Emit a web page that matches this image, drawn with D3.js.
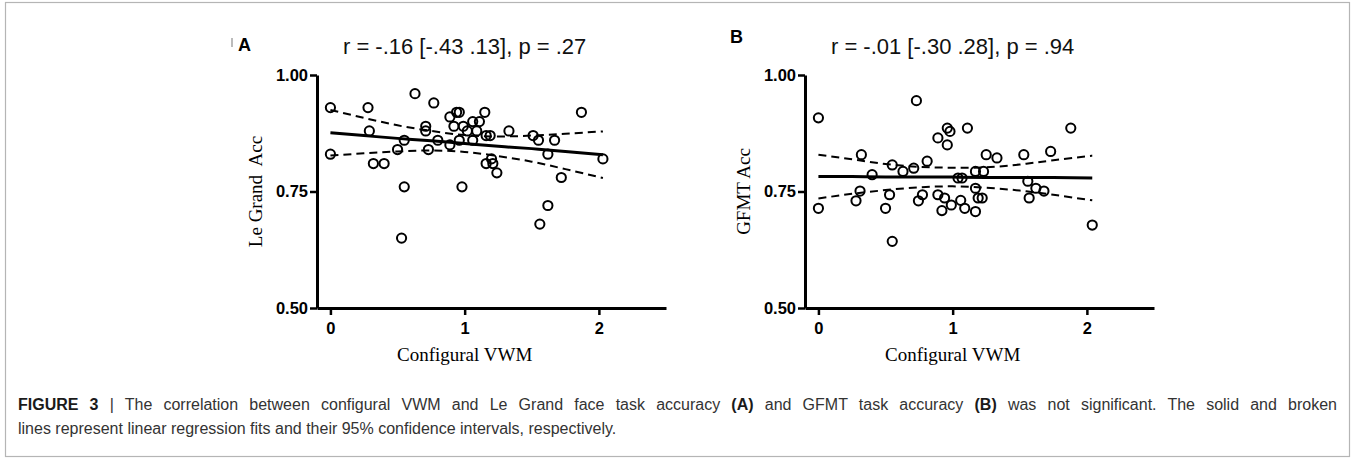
<!DOCTYPE html>
<html>
<head>
<meta charset="utf-8">
<script src="https://cdn.jsdelivr.net/npm/d3@7/dist/d3.min.js"></script>
<style>
  html, body { margin: 0; padding: 0; background: #fff; }
  svg { display: block; }
</style>
</head>
<body>
<svg id="chart" width="1355" height="461"></svg>
<script>
// ---------- DATA ----------
const xTicks = [0, 1, 2];
const xTickLabels = ["0", "1", "2"];
const yTicks = [0.50, 0.75, 1.00];
const yTickLabels = ["0.50", "0.75", "1.00"];

// Panel A: Configural VWM vs Le Grand Acc
const panelA_x = [0, 0, 0.28, 0.29, 0.32, 0.40, 0.50, 0.55, 0.55, 0.53, 0.63, 0.71, 0.71, 0.73, 0.77, 0.80,
  0.89, 0.89, 0.94, 0.96, 0.92, 0.99, 1.06, 1.11, 0.96, 1.02, 1.09, 1.06, 0.98, 1.15, 1.16, 1.19,
  1.16, 1.20, 1.21, 1.24, 1.33, 1.51, 1.55, 1.67, 1.62, 1.87, 2.03, 1.72, 1.62, 1.56];
const panelA_y = [0.93, 0.83, 0.93, 0.88, 0.81, 0.81, 0.84, 0.86, 0.76, 0.65, 0.96, 0.89, 0.88, 0.84, 0.94, 0.86,
  0.85, 0.91, 0.92, 0.92, 0.89, 0.89, 0.90, 0.90, 0.86, 0.88, 0.88, 0.86, 0.76, 0.92, 0.87, 0.87,
  0.81, 0.82, 0.81, 0.79, 0.88, 0.87, 0.86, 0.86, 0.83, 0.92, 0.82, 0.78, 0.72, 0.68];
const bandA_x = [0, 0.25, 0.5, 0.75, 1.0, 1.25, 1.5, 1.75, 2.03];
const fitA = [0.876, 0.870, 0.864, 0.859, 0.853, 0.847, 0.842, 0.836, 0.829];
const upperA = [0.925, 0.908, 0.892, 0.880, 0.871, 0.868, 0.870, 0.874, 0.879];
const lowerA = [0.827, 0.832, 0.836, 0.838, 0.835, 0.826, 0.814, 0.798, 0.779];

// Panel B: Configural VWM vs GFMT Acc
const panelB_x = [0, 0, 0.32, 0.31, 0.28, 0.40, 0.50, 0.53, 0.55, 0.55, 0.63, 0.71, 0.73, 0.745, 0.775, 0.81,
  0.89, 0.96, 0.98, 0.96, 1.11, 0.89, 0.94, 0.92, 0.99, 1.06, 1.09, 1.17, 1.04, 1.07, 1.17, 1.23,
  1.17, 1.19, 1.22, 1.25, 1.33, 1.53, 1.73, 1.88, 1.56, 1.57, 1.62, 1.68, 2.04];
const panelB_y = [0.908, 0.714, 0.829, 0.751, 0.730, 0.786, 0.714, 0.743, 0.807, 0.643, 0.793, 0.800, 0.945, 0.730, 0.743, 0.815,
  0.865, 0.886, 0.879, 0.850, 0.886, 0.743, 0.736, 0.709, 0.721, 0.731, 0.714, 0.707, 0.779, 0.779, 0.793, 0.793,
  0.757, 0.736, 0.736, 0.829, 0.822, 0.829, 0.836, 0.886, 0.772, 0.736, 0.757, 0.751, 0.678];
const bandB_x = [0, 0.25, 0.5, 0.75, 1.0, 1.25, 1.5, 1.75, 2.04];
const fitB = [0.782, 0.782, 0.781, 0.781, 0.781, 0.780, 0.780, 0.780, 0.779];
const upperB = [0.829, 0.819, 0.809, 0.803, 0.801, 0.802, 0.808, 0.817, 0.827];
const lowerB = [0.735, 0.745, 0.753, 0.759, 0.761, 0.758, 0.752, 0.743, 0.731];

const panels = [
  { letter: "A", title: "r = -.16 [-.43 .13], p = .27", ylabel: "Le Grand  Acc", xlabel: "Configural VWM",
    px: panelA_x, py: panelA_y, bx: bandA_x, fit: fitA, up: upperA, lo: lowerA,
    left: 317, letterX: 238, letterY: 51, markX: 232 },
  { letter: "B", title: "r = -.01 [-.30 .28], p = .94", ylabel: "GFMT Acc", xlabel: "Configural VWM",
    px: panelB_x, py: panelB_y, bx: bandB_x, fit: fitB, up: upperB, lo: lowerB,
    left: 805, letterX: 730, letterY: 43, markX: null }
];

const captionLine1 = [
  { t: "FIGURE 3", b: true }, { t: " | The correlation between configural VWM and Le Grand face task accuracy ", b: false },
  { t: "(A)", b: true }, { t: " and GFMT task accuracy ", b: false }, { t: "(B)", b: true },
  { t: " was not significant. The solid and broken", b: false }
];
const captionLine2 = "lines represent linear regression fits and their 95% confidence intervals, respectively.";

// ---------- DRAW ----------
const svg = d3.select("#chart");

// outer frame
svg.append("rect").attr("x", 5.5).attr("y", 2.5).attr("width", 1344).attr("height", 454)
  .attr("fill", "none").attr("stroke", "#b5b5b5").attr("stroke-width", 1.2);

const plotTop = 75, plotBottom = 308, plotW = 349;
const sans = "'Liberation Sans', Arial, sans-serif";
const serif = "'Liberation Serif', 'Times New Roman', serif";

panels.forEach(p => {
  const x = d3.scaleLinear().domain([-0.1, 2.5]).range([p.left, p.left + plotW]);
  const y = d3.scaleLinear().domain([0.5, 1.0]).range([plotBottom, plotTop]);
  const g = svg.append("g");

  // axes
  const yAxis = d3.axisLeft(y).tickValues(yTicks)
    .tickFormat((d, i) => yTickLabels[i]).tickSize(7).tickSizeOuter(0).tickPadding(2);
  const gy = g.append("g").attr("transform", `translate(${p.left},0)`).call(yAxis);
  const xAxis = d3.axisBottom(x).tickValues(xTicks)
    .tickFormat((d, i) => xTickLabels[i]).tickSize(7).tickSizeOuter(0).tickPadding(7);
  const gx = g.append("g").attr("transform", `translate(0,${plotBottom})`).call(xAxis);
  [gy, gx].forEach(a => {
    a.select(".domain").attr("stroke", "#000").attr("stroke-width", 3);
    a.selectAll(".tick line").attr("stroke", "#000").attr("stroke-width", 2.5);
    a.selectAll(".tick text").attr("fill", "#000")
      .style("font-family", sans).style("font-weight", "bold").style("font-size", "16.5px");
  });

  // confidence band (dashed) and fit (solid)
  const line = d3.line().x((d, i) => x(p.bx[i])).y(d => y(d)).curve(d3.curveNatural);
  g.append("path").attr("d", line(p.up)).attr("fill", "none").attr("stroke", "#000")
    .attr("stroke-width", 2).attr("stroke-dasharray", "8,5");
  g.append("path").attr("d", line(p.lo)).attr("fill", "none").attr("stroke", "#000")
    .attr("stroke-width", 2).attr("stroke-dasharray", "8,5");
  g.append("path").attr("d", line(p.fit)).attr("fill", "none").attr("stroke", "#000")
    .attr("stroke-width", 3);

  // points
  g.selectAll("circle.pt").data(p.px).enter().append("circle").attr("class", "pt")
    .attr("cx", d => x(d)).attr("cy", (d, i) => y(p.py[i])).attr("r", 4.6)
    .attr("fill", "none").attr("stroke", "#000").attr("stroke-width", 2);

  // labels
  if (p.markX !== null) {
    g.append("line").attr("x1", p.markX).attr("x2", p.markX).attr("y1", 38).attr("y2", 47)
      .attr("stroke", "#bbb").attr("stroke-width", 2);
  }
  g.append("text").attr("x", p.letterX).attr("y", p.letterY).text(p.letter)
    .style("font-family", sans).style("font-weight", "bold")
    .style("font-size", "18px").attr("fill", "#000");
  g.append("text").attr("x", x(1)).attr("y", 54).attr("text-anchor", "middle").text(p.title)
    .style("font-family", sans).style("font-size", "22px").attr("fill", "#111");
  g.append("text").attr("transform", `translate(${p.left - 55},${(plotTop + plotBottom) / 2}) rotate(-90)`)
    .attr("text-anchor", "middle").text(p.ylabel)
    .style("font-family", serif).style("font-size", "19px")
    .style("white-space", "pre").attr("fill", "#000");
  g.append("text").attr("x", x(1)).attr("y", 361).attr("text-anchor", "middle").text(p.xlabel)
    .style("font-family", serif).style("font-size", "19px").attr("fill", "#000");
});

// caption (first line justified to the full text width)
const capLeft = 18, capRight = 1337;
const cap1 = svg.append("text").attr("x", capLeft).attr("y", 410)
  .style("font-family", sans).style("font-size", "16px").attr("fill", "#333");
captionLine1.forEach(s => {
  cap1.append("tspan").text(s.t).style("font-weight", s.b ? "bold" : "normal")
    .attr("fill", s.b ? "#1a1a1a" : "#333");
});
const natural = cap1.node().getComputedTextLength();
const nSpaces = captionLine1.map(s => s.t).join("").split(" ").length - 1;
const extra = (capRight - capLeft - natural) / nSpaces;
if (extra > 0) cap1.style("word-spacing", extra + "px");
svg.append("text").attr("x", capLeft).attr("y", 434).text(captionLine2)
  .style("font-family", sans).style("font-size", "16px").attr("fill", "#333");
</script>
</body>
</html>
